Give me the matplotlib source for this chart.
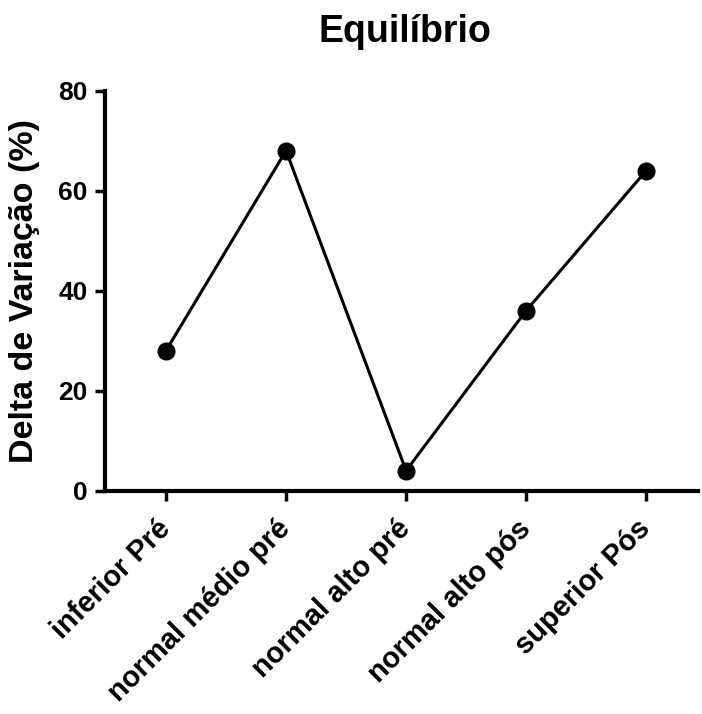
import numpy as np
import matplotlib
matplotlib.use("Agg")
import matplotlib.pyplot as plt

# data
categorias = ["inferior Pré", "normal médio pré", "normal alto pré",
              "normal alto pós", "superior Pós"]
delta = [28, 68, 4, 36, 64]
yticks = [0, 20, 40, 60, 80]

plt.rcParams['font.family'] = ['Liberation Sans', 'DejaVu Sans']
plt.rcParams['font.weight'] = 'bold'

fig = plt.figure(figsize=(7.02, 7.14), dpi=100)
ax = fig.add_axes([0.1496, 0.3128, 0.8444, 0.5602])

x = np.arange(len(categorias))
ax.plot(x, delta, color='black', linewidth=2.2, marker='o',
        markersize=12, markerfacecolor='black', markeredgecolor='black')

ax.set_xlim(-0.508, 4.43)
ax.set_ylim(0, 80)
ax.set_yticks(yticks)
ax.set_yticklabels([str(t) for t in yticks], fontsize=19, fontweight='bold')
ax.set_xticks(x)
ax.set_xticklabels(categorias, fontsize=21, fontweight='bold',
                   rotation=45, ha='right', va='center', rotation_mode='anchor')

for s in ['top', 'right']:
    ax.spines[s].set_visible(False)
for s in ['left', 'bottom']:
    ax.spines[s].set_linewidth(3)
ax.tick_params(axis='both', direction='out', length=7.5, width=2.5)
ax.tick_params(axis='y', pad=5)
ax.tick_params(axis='x', pad=17)

ax.set_ylabel("Delta de Variação (%)", fontsize=24.5, fontweight='bold', va='center')
ax.yaxis.set_label_coords(-0.135, 0.5)
fig.text(0.577, 0.941, "Equilíbrio", fontsize=27, fontweight='bold',
         ha='center', va='baseline')

fig.savefig("out.png", dpi=100)
